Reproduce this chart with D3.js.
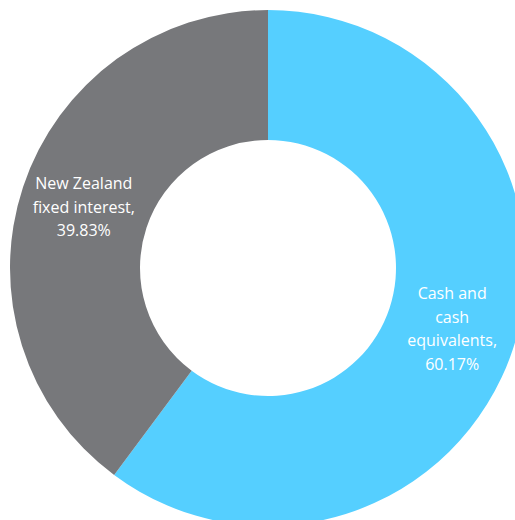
<!DOCTYPE html>
<html lang="en">
  <head>
    <meta charset="UTF-8" />
    <title>Portfolio donut</title>
    <script src="https://cdn.jsdelivr.net/npm/d3@7"></script>
    <style>
      body { margin: 0; background: #fff; }
      svg { display: block; }
      .lbl { font-family: "Open Sans", sans-serif; font-size: 16px; fill: #fff; }
    </style>
  </head>
  <body>
    <svg id="chart" width="515" height="520"></svg>
    <script>
      // data
      let categories = ["Cash and cash equivalents", "New Zealand fixed interest"];
      let values = [60.17, 39.83];
      let labelLines = [
        ["Cash and", "cash", "equivalents,", "60.17%"],
        ["New Zealand", "fixed interest,", "39.83%"]
      ];
      let colors = ["#55cfff", "#77787b"];

      let svg = d3.select("#chart");
      let cx = 268, cy = 268;
      let outerR = 258, innerR = 128;

      let pie = d3.pie().sort(null).value(d => d);
      let arcs = pie(values);

      let arc = d3.arc().innerRadius(innerR).outerRadius(outerR);

      let g = svg.append("g").attr("transform", "translate(" + cx + "," + cy + ")");

      g.selectAll("path")
        .data(arcs)
        .enter()
        .append("path")
        .attr("d", arc)
        .attr("fill", (d, i) => colors[i]);

      // label anchor points
      let labelArc = d3.arc().innerRadius(194).outerRadius(194);
      let lineH = 23.5;

      arcs.forEach(function (d, i) {
        let mid = (d.startAngle + d.endAngle) / 2;
        let pos = labelArc.centroid({ startAngle: mid, endAngle: mid });
        let lines = labelLines[i];
        let t = g.append("text")
          .attr("class", "lbl")
          .attr("text-anchor", "middle");
        lines.forEach(function (s, k) {
          t.append("tspan")
            .attr("x", pos[0])
            .attr("y", pos[1] + (k - (lines.length - 1) / 2) * lineH)
            .attr("dy", "0.35em")
            .text(s);
        });
      });
    </script>
  </body>
</html>
